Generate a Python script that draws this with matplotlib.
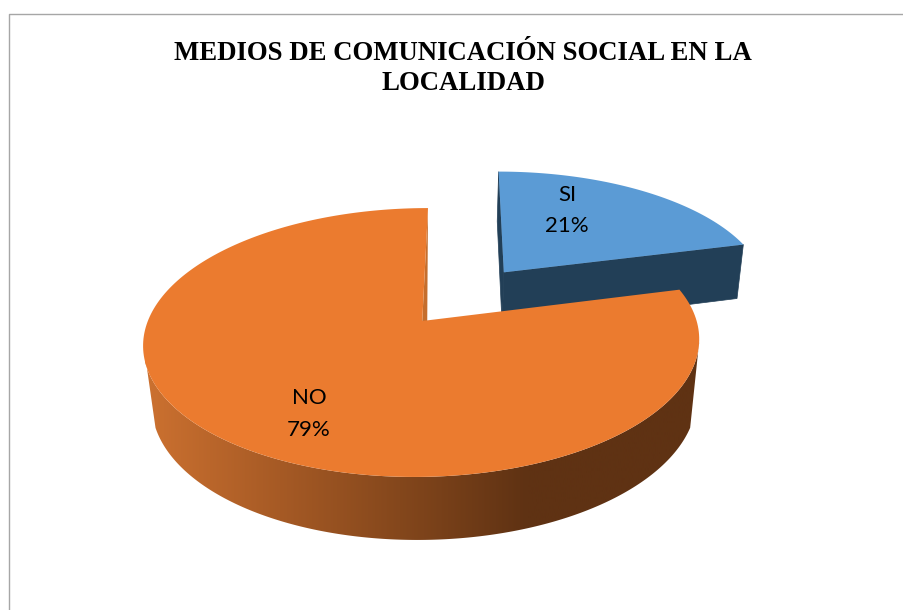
import numpy as np
import matplotlib
matplotlib.use("Agg")
import matplotlib.pyplot as plt
from matplotlib.colors import LinearSegmentedColormap
from matplotlib.patches import Polygon

title_lines = ["MEDIOS DE COMUNICACIÓN SOCIAL EN LA", "LOCALIDAD"]
categories = ["SI", "NO"]
shares = [21, 79]

TOP_COLORS = ["#5B9BD5", "#EB7B2F"]
SI_SIDE = "#223F57"
NO_CUT = "#C56E2D"
NO_SIDE_STOPS = [(0.0, "#CC7130"), (0.243, "#A65A25"), (0.459, "#84471C"),
                 (0.688, "#5F3213"), (1.0, "#5F3213")]

# projection of the pie disc onto the page
CX, CY = 425.0, 321.0
RX, RY = 274.4, 131.0
PERSP = 0.16
SHEAR = -0.051
EXPLODE = 0.5


def project(u, v, depth=0.0):
    """Disc coords (u right, v to the back) to page pixels; depth=1 is the underside."""
    u = np.asarray(u, dtype=float)
    v = np.asarray(v, dtype=float)
    w = 1 + PERSP * v
    x = RX * u / w * (1 - 0.02 * depth)
    y = CY - RY * v / w
    x = CX + x + SHEAR * (y - 267)
    y = y + depth * (57.5 - 5.5 * v)
    return np.column_stack([x, y])


def rim(t0, t1, u0=0.0, v0=0.0, depth=0.0, n=240):
    t = np.radians(np.linspace(t0, t1, n))
    return project(u0 + np.sin(t), v0 + np.cos(t), depth)


fig = plt.figure(figsize=(9.04, 6.10), dpi=100)
ax = fig.add_axes([0, 0, 1, 1])
ax.set_xlim(0, 904)
ax.set_ylim(610, 0)
ax.axis("off")

# chart frame runs off the page on the right and bottom
ax.plot([9.5, 9.5, 904], [610, 13.5, 13.5], color="#A6A6A6", lw=1.0, zorder=1)

si_end = shares[0] / sum(shares) * 360
mid = np.radians(si_end / 2)
du, dv = EXPLODE * np.sin(mid), EXPLODE * np.cos(mid)

# exploded SI slice: side faces first, then the top
apex_top = project([du], [dv])
apex_low = project([du], [dv], 1)
for t in (0, si_end):
    edge_top = rim(t, t, du, dv, n=1)
    edge_low = rim(t, t, du, dv, 1, n=1)
    ax.add_patch(Polygon(np.vstack([edge_top, apex_top, apex_low, edge_low]),
                         closed=True, fc=SI_SIDE, ec=SI_SIDE, lw=0.5, zorder=2))
ax.add_patch(Polygon(np.vstack([apex_top, rim(0, si_end, du, dv)]),
                     closed=True, fc=TOP_COLORS[0], ec="none", zorder=3))

# NO slice: outer wall with a left-to-right shading, straight down at both sides
wall = np.vstack([rim(99, 261), (rim(110, 250, depth=1) + [3, 0])[::-1]])
wall_patch = Polygon(wall, closed=True, fc="none", ec="none", zorder=4)
ax.add_patch(wall_patch)
cmap = LinearSegmentedColormap.from_list("no_side", NO_SIDE_STOPS)
img = ax.imshow(np.linspace(0, 1, 256).reshape(1, -1), cmap=cmap, aspect="auto",
                extent=(145, 700, 610, 0), zorder=4, interpolation="bilinear")
img.set_clip_path(wall_patch)
ax.set_xlim(0, 904)
ax.set_ylim(610, 0)

# cut face seen in the notch, then the top of the slice
apex = project([0], [0])
rim_start = rim(360, 360, n=1)
ax.add_patch(Polygon(np.vstack([rim_start, apex, apex + [5, 0]]),
                     closed=True, fc=NO_CUT, ec="none", zorder=5))
ax.add_patch(Polygon(np.vstack([apex, rim(si_end, 360)]),
                     closed=True, fc=TOP_COLORS[1], ec="none", zorder=6))

for i, line in enumerate(title_lines):
    ax.text(463, 53 + i * 31, line, ha="center", va="center", family="Liberation Serif",
            fontweight="bold", fontsize=19.3, color="black", zorder=7)

label_pos = [(567, 195, 226), (309, 398, 430)]
for cat, share, (x, y_name, y_share) in zip(categories, shares, label_pos):
    ax.text(x, y_name, cat, ha="center", va="center", family="Lato",
            fontsize=16, color="black", zorder=7)
    ax.text(x, y_share, f"{share}%", ha="center", va="center", family="Lato",
            fontsize=16, color="black", zorder=7)

fig.savefig("out.png", dpi=100, facecolor="white")
plt.close(fig)
